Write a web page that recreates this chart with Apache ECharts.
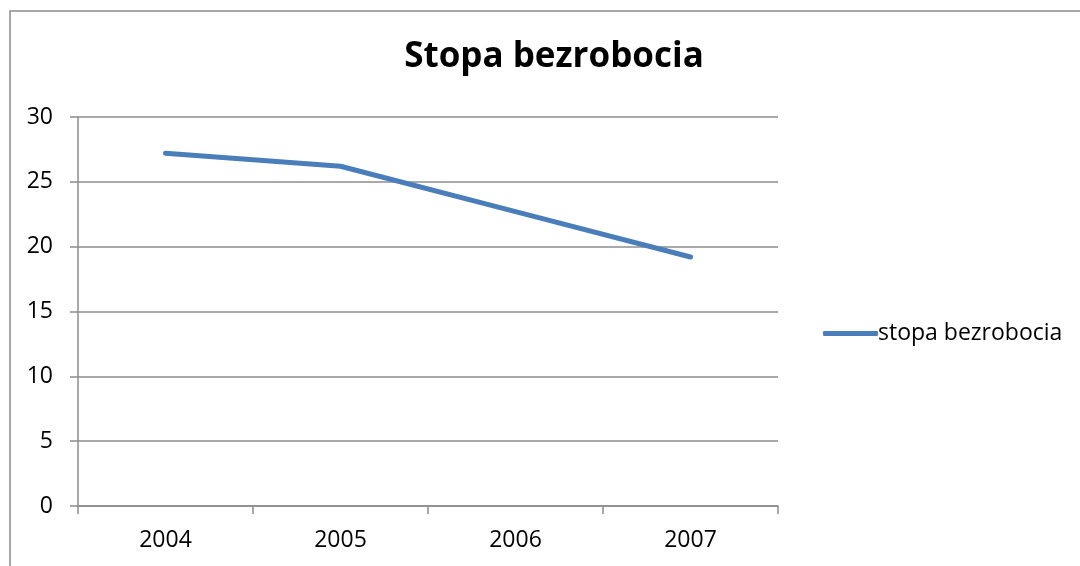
<!DOCTYPE html>
<html>
<head>
<meta charset="utf-8">
<script src="https://cdn.jsdelivr.net/npm/echarts@6/dist/echarts.min.js"></script>
<style>
html,body{margin:0;padding:0;background:#fff;}
#chart{width:1080px;height:566px;}
</style>
</head>
<body>
<div id="chart"></div>
<script>
const categories = ['2004', '2005', '2006', '2007'];
const values = [27.2, 26.2, 22.7, 19.2];
const seriesName = 'stopa bezrobocia';
const titleText = 'Stopa bezrobocia';

const chart = echarts.init(document.getElementById('chart'), null, {renderer: 'canvas'});
const FONT = '"Open Sans", sans-serif';
const GRID = '#8c8c8c';
chart.setOption({
  animation: false,
  backgroundColor: '#fff',
  title: {
    text: titleText,
    left: 549, top: 35, textAlign: 'center',
    textStyle: {fontFamily: FONT, fontSize: 35, fontWeight: 'bold', color: '#000'}
  },
  graphic: [{
    type: 'rect', z: -1,
    shape: {x: 10, y: 11, width: 1100, height: 600},
    style: {fill: 'none', stroke: '#8c8c8c', lineWidth: 1.5}
  }],
  legend: {
    left: 818, top: 317,
    itemWidth: 55, itemHeight: 5, itemGap: 0,
    icon: 'roundRect',
    textStyle: {fontFamily: FONT, fontSize: 23, color: '#000', padding: [0,0,0,-5]},
    data: [seriesName]
  },
  grid: {left: 78, right: 302, top: 117, bottom: 60, containLabel: false},
  xAxis: {
    type: 'category', data: categories, boundaryGap: true,
    axisLine: {show: true, lineStyle: {color: GRID, width: 1.5}},
    axisTick: {show: true, length: 8, alignWithLabel: false, lineStyle: {color: GRID, width: 1.5}},
    axisLabel: {fontFamily: FONT, fontSize: 23, color: '#000', margin: 23}
  },
  yAxis: {
    type: 'value', min: 0, max: 30, interval: 5,
    axisLine: {show: true, lineStyle: {color: GRID, width: 1.5}},
    axisTick: {show: true, length: 8, lineStyle: {color: GRID, width: 1.5}},
    axisLabel: {fontFamily: FONT, fontSize: 23, color: '#000', margin: 25},
    splitLine: {show: true, lineStyle: {color: GRID, width: 1.5}}
  },
  series: [{
    name: seriesName, type: 'line', data: values,
    showSymbol: false, symbol: 'none',
    itemStyle: {color: '#4a7ebb'},
    lineStyle: {color: '#4a7ebb', width: 5, cap: 'round', join: 'round'}
  }]
});
</script>
</body>
</html>
